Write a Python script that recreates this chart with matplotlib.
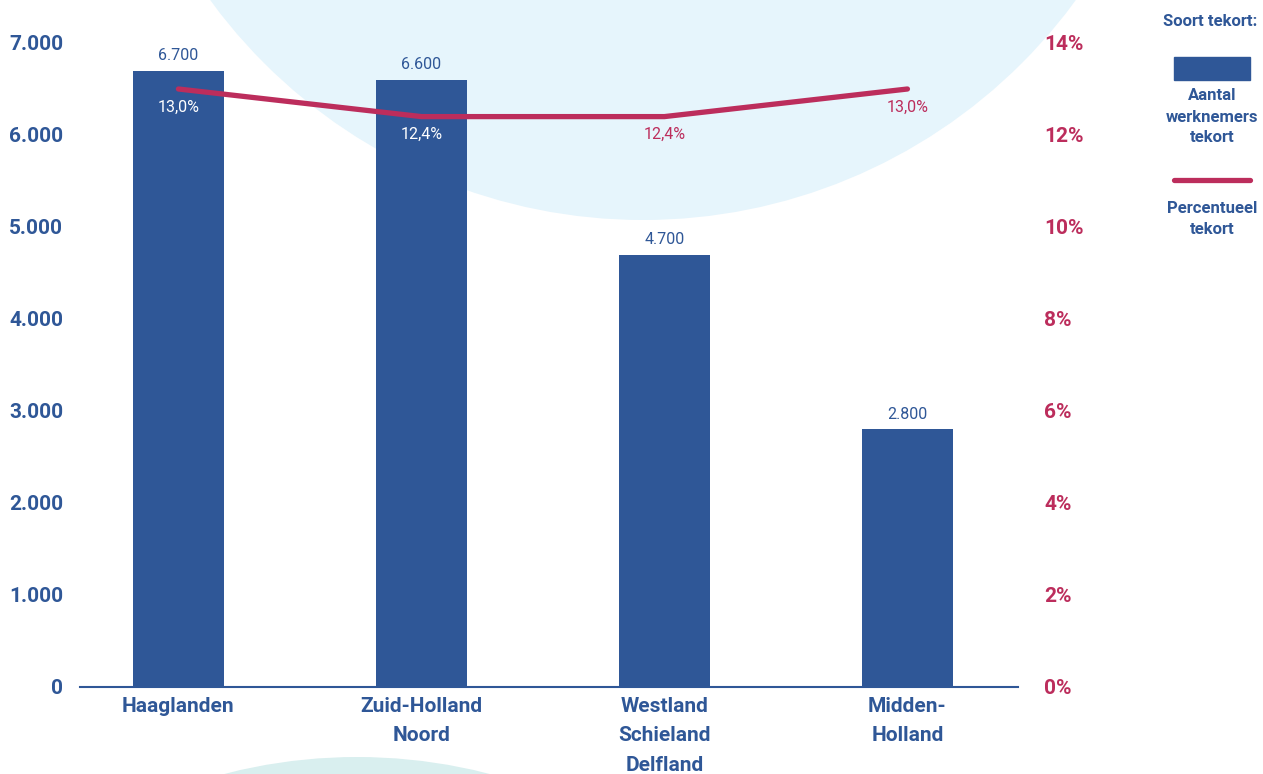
import matplotlib.pyplot as plt
from matplotlib.patches import Circle, Rectangle
from matplotlib.lines import Line2D
import numpy as np

plt.rcParams['font.family'] = ['Roboto', 'DejaVu Sans']

regions = ['Haaglanden', 'Zuid-Holland\nNoord', 'Westland\nSchieland\nDelfland', 'Midden-\nHolland']
tekort = [6700, 6600, 4700, 2800]
pct = [13.0, 12.4, 12.4, 13.0]
pct_labels = ['13,0%', '12,4%', '12,4%', '13,0%']

blue = '#2f5797'
red = '#bc2d5c'

fig = plt.figure(figsize=(12.63, 7.74), dpi=100)

# background circles in pixel coords
bg = fig.add_axes([0, 0, 1, 1], zorder=0)
bg.set_xlim(0, 1263)
bg.set_ylim(774, 0)
bg.axis('off')
bg.add_patch(Circle((643, -316), 536, color='#e6f5fc', lw=0))
bg.add_patch(Circle((357, 1286), 529, color='#d9efef', lw=0))

ax = fig.add_axes([80 / 1263, 87 / 774, 938 / 1263, 644 / 774], zorder=1)
ax.patch.set_alpha(0)
x = np.arange(len(regions))
ax.bar(x, tekort, width=0.375, color=blue, zorder=2)
ax.set_xlim(-0.405, 3.455)
ax.set_ylim(0, 7000)
for s in ['top', 'right', 'left']:
    ax.spines[s].set_visible(False)
ax.spines['bottom'].set_color(blue)
ax.spines['bottom'].set_linewidth(1.5)
ax.set_yticks(range(0, 7001, 1000))
ax.set_yticklabels(['{:,}'.format(v).replace(',', '.') for v in range(0, 7001, 1000)])
ax.tick_params(axis='y', length=0, pad=12, labelsize=15, labelcolor=blue)
ax.set_xticks(x)
ax.set_xticklabels(regions, linespacing=1.7)
ax.tick_params(axis='x', length=0, pad=7, labelsize=15, labelcolor=blue)
for lab in ax.get_xticklabels() + ax.get_yticklabels():
    lab.set_fontweight('bold')

for xi, v in zip(x, tekort):
    ax.annotate('{:,}'.format(v).replace(',', '.'), (xi, v), xytext=(0, 11),
                textcoords='offset points', ha='center', va='center',
                fontsize=11.5, color=blue)

ax2 = ax.twinx()
ax2.set_ylim(0, 14)
ax2.plot(x, pct, color=red, lw=3.8, solid_capstyle='round', zorder=3)
for s in ['top', 'right', 'left', 'bottom']:
    ax2.spines[s].set_visible(False)
ax2.set_yticks(range(0, 15, 2))
ax2.set_yticklabels(['{}%'.format(v) for v in range(0, 15, 2)])
ax2.tick_params(axis='y', length=0, pad=19, labelsize=15, labelcolor=red)
for lab in ax2.get_yticklabels():
    lab.set_fontweight('bold')

for i, (xi, v) in enumerate(zip(x, pct)):
    c = 'white' if tekort[i] / 7000 * 14 > v else red
    ax2.annotate(pct_labels[i], (xi, v), xytext=(0, -13), textcoords='offset points',
                 ha='center', va='center', fontsize=11.5, color=c)

# legend
fig.text(1210 / 1263, 1 - 22 / 774, 'Soort tekort:', ha='center', va='center',
         fontsize=12, fontweight='bold', color=blue)
fig.patches.append(Rectangle((1174 / 1263, 1 - 80 / 774), 76 / 1263, 23 / 774,
                             transform=fig.transFigure, color=blue))
fig.text(1212 / 1263, 1 - 117 / 774, 'Aantal\nwerknemers\ntekort', ha='center',
         va='center', fontsize=12, fontweight='bold', color=blue, linespacing=1.5)
fig.lines.append(Line2D([1174 / 1263, 1250 / 1263], [1 - 180 / 774, 1 - 180 / 774],
                        transform=fig.transFigure, color=red, lw=3.8,
                        solid_capstyle='round'))
fig.text(1212 / 1263, 1 - 219 / 774, 'Percentueel\ntekort', ha='center',
         va='center', fontsize=12, fontweight='bold', color=blue, linespacing=1.5)

plt.savefig('out.png', dpi=100)
